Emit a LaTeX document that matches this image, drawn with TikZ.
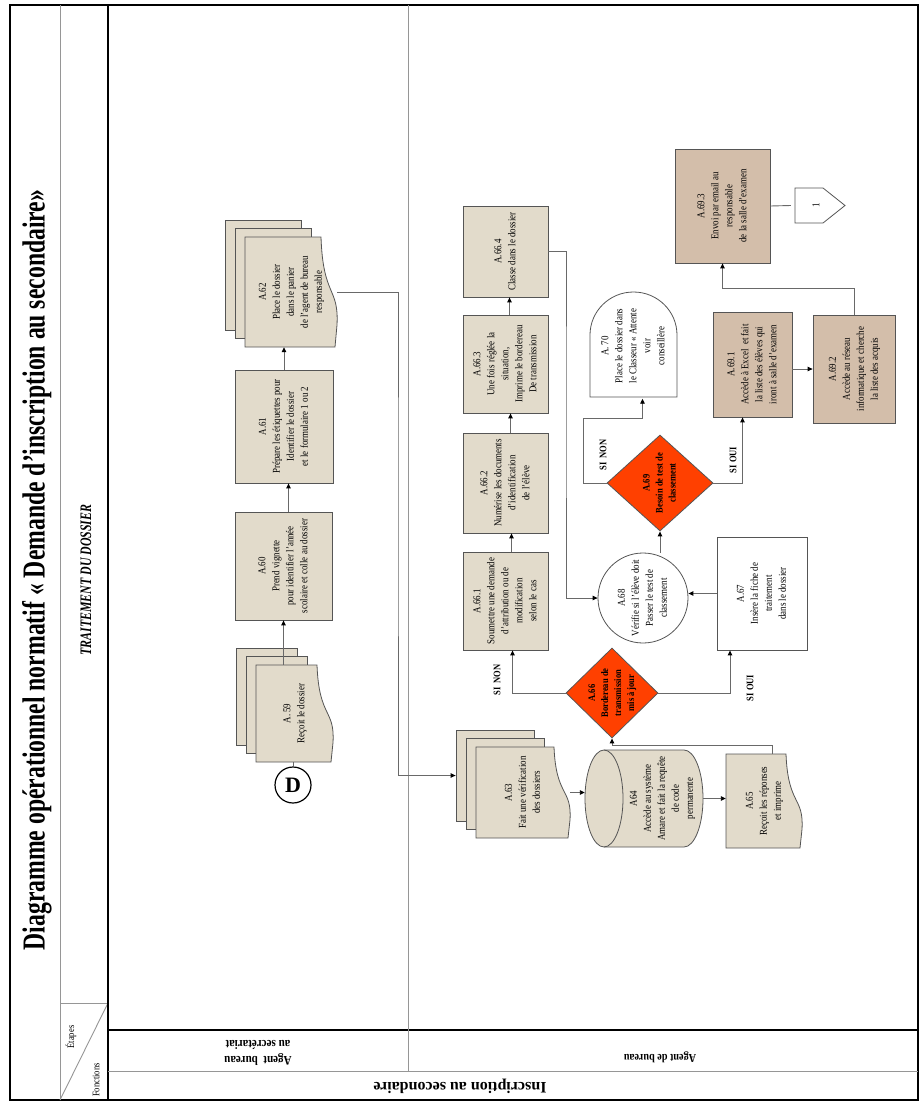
\documentclass[tikz,border=0pt]{standalone}
\usepackage{fontspec}
\setmainfont{Liberation Serif}
\newfontfamily\tfont{Liberation Serif}[FakeStretch=0.74]
\newfontfamily\nfont{Liberation Serif}[FakeStretch=0.85]
\usetikzlibrary{arrows.meta,shapes.geometric}
\definecolor{beige}{RGB}{226,219,203}
\definecolor{tanb}{RGB}{211,190,170}
\definecolor{redd}{RGB}{255,64,0}
\definecolor{edgec}{RGB}{85,85,85}
\definecolor{wirec}{RGB}{105,105,105}
\definecolor{linec}{RGB}{150,150,150}
\newcommand\rt[1]{\rotatebox{90}{\begin{tabular}{@{}c@{}}#1\end{tabular}}}
\newcommand\rtb[1]{\rotatebox{180}{\begin{tabular}{@{}c@{}}#1\end{tabular}}}
\tikzset{
  sheet/.style={draw=edgec, fill=beige, line width=0.8pt},
  nodefont/.style={font=\nfont\fontsize{10.5}{14}\selectfont},
  boxn/.style={sheet, rectangle, inner sep=0pt, nodefont},
  tanbox/.style={boxn, fill=tanb},
  whitebox/.style={boxn, fill=white},
  sheetn/.style={sheet, rectangle, inner sep=0pt},
  txt/.style={inner sep=0pt, nodefont},
  btxt/.style={inner sep=0pt, font=\nfont\bfseries\fontsize{10}{13}\selectfont},
  dia/.style={diamond, draw=edgec, fill=redd, line width=0.8pt, inner sep=0pt},
  wire/.style={draw=wirec, line width=0.9pt},
  arr/.style={wire, -{Triangle[length=5pt,width=4.5pt,color=black]}},
  gridl/.style={draw=linec, line width=0.9pt},
  heavy/.style={draw=black, line width=1.6pt},
}
% front document sheet with wavy right edge: x0 y0 x1 y1
\newcommand\docfront[4]{%
  \filldraw[sheet] (#1,#2) -- ({#3-16},#2)
    .. controls ({#3-14},{#2+0.55*(#4-#2)}) and ({#3+2},{#2+0.45*(#4-#2)}) .. ({#3},{#2+0.8*(#4-#2)})
    .. controls ({#3-0.5},{#2+0.9*(#4-#2)}) .. ({#3-2},#4) -- (#1,#4) -- cycle;}
% stack of three sheets: name x0 y0 x1 y1 (front sheet)
\newcommand\docstack[5]{%
  \node[sheetn, minimum width={(#4-#2-16)*1pt}, minimum height={(#5-#3)*1pt}] (#1b2) at ({(#2+#4-16)/2-20},{(#3+#5)/2-17}) {};
  \node[sheetn, minimum width={(#4-#2-16)*1pt}, minimum height={(#5-#3)*1pt}] (#1b1) at ({(#2+#4-16)/2-10},{(#3+#5)/2-8.5}) {};
  \docfront{#2}{#3}{#4}{#5}}
\begin{document}
\begin{tikzpicture}[x=1pt,y=-1pt]
\useasboundingbox (0,0) rectangle (923,1108);
\fill[white] (0,0) rectangle (923,1108);
% ---------- frame ----------
\draw[black, line width=1.4pt] (10,5) rectangle (918,1100);
\draw[gridl] (60,5) -- (60,1100);
\draw[gridl] (60,1003) -- (108,1003);
\draw[gridl] (60,1100) -- (108,1003);
\draw[heavy] (108,5) -- (108,1100);
\draw[heavy] (108,1030) -- (918,1030);
\draw[gridl] (108,1071) -- (918,1071);
\draw[gridl] (408,5) -- (408,1071);
% ---------- headers ----------
\node[font=\tfont\bfseries\fontsize{32}{36}\selectfont, rotate=90, inner sep=0pt] (title) at (37,570) {Diagramme opérationnel normatif «~Demande d’inscription au secondaire»};
\node[font=\tfont\bfseries\itshape\fontsize{16}{18}\selectfont, rotate=90, inner sep=0pt] (phase) at (86,580) {TRAITEMENT DU DOSSIER};
\node[font=\nfont\fontsize{10}{10}\selectfont, rotate=90, inner sep=0pt] (etapes) at (71,1037) {Étapes};
\node[font=\nfont\fontsize{10}{10}\selectfont, rotate=90, inner sep=0pt] (fonctions) at (96,1080) {Fonctions};
\node[font=\nfont\bfseries\fontsize{13}{16}\selectfont, inner sep=0pt] (lane1) at (258,1052) {\rtb{Agent~~bureau\\au secrétariat}};
\node[font=\nfont\bfseries\fontsize{12}{15}\selectfont, rotate=180, inner sep=0pt] (lane2) at (660,1057) {Agent de bureau};
\node[font=\bfseries\fontsize{16}{18}\selectfont, rotate=180, inner sep=0pt] (process) at (460,1086) {Inscription au secondaire};
% ---------- lane 1 ----------
\node[circle, draw=black, line width=1.2pt, minimum size=36pt, inner sep=0pt, font=\bfseries\fontsize{22}{22}\selectfont] (D) at (293,785) {D};
\docstack{A59}{256}{665}{333}{762}
\node[txt, minimum width=77pt, minimum height=97pt] (A59) at (294.5,713.5) {\rt{A. 59\\Reçoit le dossier}};
\node[boxn, minimum width=97pt, minimum height=108pt] (A60) at (283.5,566) {\rt{A.60\\Prend vignette\\pour identifier l’année\\scolaire et colle au dossier}};
\node[boxn, minimum width=98pt, minimum height=113pt] (A61) at (284,426.5) {\rt{A.61\\Prépare les étiquettes pour\\Identifier le dossier\\et le formulaire 1 ou 2}};
\docstack{A62}{245}{237}{337}{347}
\node[txt, minimum width=92pt, minimum height=110pt] (A62) at (291,292) {\rt{A.62\\Place le dossier\\dans le panier\\de l’agent de bureau\\responsable}};
% ---------- lane 2 ----------
\docstack{A63}{476}{747}{570}{838}
\node[txt, minimum width=94pt, minimum height=91pt] (A63) at (523,792.5) {\rt{A.63\\Fait une vérification\\des dossiers}};
\filldraw[sheet] (604,750) -- (684,750) arc[start angle=-90, end angle=90, x radius=19, y radius=48.5] -- (604,847) arc[start angle=90, end angle=270, x radius=19, y radius=48.5] -- cycle;
\draw[sheet, fill=none] (604,750) arc[start angle=-90, end angle=90, x radius=19, y radius=48.5];
\node[inner sep=0pt, minimum width=118pt, minimum height=97pt] (A64) at (644,798.5) {};
\node[txt] (A64t) at (662,798.5) {\rt{A64\\Accède au système\\Amare et fait la requête\\de code\\permanente}};
\docfront{726}{754}{802}{848}
\node[txt, minimum width=76pt, minimum height=94pt] (A65) at (764,801) {\rt{A.65\\Reçoit les réponses\\et imprime}};
\node[dia, minimum width=92pt, minimum height=90pt] (A66) at (612,693) {};
\node[btxt] (A66t) at (612,693) {\rt{A.66\\Bordereau de\\transmission\\mis à jour}};
\node[boxn, minimum width=85pt, minimum height=98pt] (A661) at (505.5,601) {\rt{A.66.1\\Soumettre une demande\\d’attribution ou de\\modification\\selon le cas}};
\node[boxn, minimum width=85pt, minimum height=100pt] (A662) at (505.5,483) {\rt{A.66.2\\Numérise les documents\\d’identification\\de l’élève}};
\node[boxn, minimum width=85pt, minimum height=98pt] (A663) at (505.5,364) {\rt{A.66.3\\Une fois réglée la\\situation,\\Imprime le bordereau\\De transmission}};
\node[boxn, minimum width=85pt, minimum height=91pt] (A664) at (505.5,251.5) {\rt{A.66.4\\Classe dans le dossier}};
\node[whitebox, minimum width=90pt, minimum height=113pt] (A67) at (762,593.5) {\rt{A.67\\Insère la fiche de\\traitement\\dans le dossier}};
\node[circle, draw=edgec, fill=white, line width=0.8pt, minimum size=90pt, inner sep=0pt] (A68) at (643,598) {};
\node[txt] (A68t) at (643,598) {\rt{A.68\\Vérifie si l’élève doit\\Passer le test de\\classement}};
\node[dia, minimum width=106pt, minimum height=96pt] (A69) at (660,483) {};
\node[btxt] (A69t) at (660,483) {\rt{A.69\\Besoin de test de\\classement}};
\filldraw[sheet, fill=white] (590,397) -- (590,335) arc[start angle=180, end angle=360, x radius=43.5, y radius=43] -- (677,397) -- cycle;
\node[txt, minimum width=87pt, minimum height=105pt] (A70) at (633.5,346) {\rt{A. 70\\Place le dossier dans\\le Classeur «~Attente\\voir\\conseillère}};
\node[tanbox, minimum width=79pt, minimum height=105pt] (A691) at (752.5,364.5) {\rt{A.69.1\\Accède à Excel~ et fait\\la liste des élèves qui\\iront à salle d’examen}};
\node[tanbox, minimum width=82pt, minimum height=108pt] (A692) at (854,369) {\rt{A.69.2\\Accède au réseau\\informatique et cherche\\la liste des acquis}};
\node[tanbox, minimum width=95pt, minimum height=114pt] (A693) at (722.5,206) {\rt{A.69.3\\Envoi par email au\\responsable\\de la salle d’examen}};
\filldraw[sheet, fill=white] (795,188) -- (823,188) -- (845,205.5) -- (823,223) -- (795,223) -- cycle;
\node[txt, minimum width=50pt, minimum height=35pt] (C1) at (816,205.5) {\rotatebox{90}{1}};
% ---------- labels ----------
\node[btxt, rotate=90] (sinon1) at (497,680) {SI~~NON};
\node[btxt, rotate=90] (sioui1) at (750,688) {SI OUI};
\node[btxt, rotate=90] (sinon2) at (603,455) {SI~~NON};
\node[btxt, rotate=90] (sioui2) at (733,460) {SI OUI};
% ---------- connectors ----------
\draw[wire] (D) -- (D |- A59.south);
\draw[arr] (A59.north -| A60) -- (A60.south);
\draw[arr] ([xshift=5pt]A60.north) -- ([xshift=5pt]A60.north |- A61.south);
\draw[arr] (A61.north) -- (A61.north |- A62.south);
\coordinate (j1) at (398,500);
\draw[arr] (A62.east) -| (j1) |- (A63b2.west);
\draw[arr] (A63.east) -- (A63.east -| A64.west);
\draw[arr] (A64.east) -- (A64.east -| A65.west);
\draw[arr] ([xshift=8pt]A65.north) -- ++(0,-8) -| (A66.south);
\draw[arr] (A66.west) -| ([xshift=7pt]A661.south);
\draw[arr] (A66.east) -| ([xshift=-32pt]A67.south);
\draw[arr] ([xshift=6pt]A661.north) -- ([xshift=6pt]A661.north |- A662.south);
\draw[arr] ([xshift=5pt]A662.north) -- ([xshift=5pt]A662.north |- A663.south);
\draw[arr] ([xshift=4pt]A663.north) -- ([xshift=4pt]A663.north |- A664.south);
\coordinate (j2) at (566,400);
\draw[arr] (A664.east) -| (j2) |- (A68.west);
\draw[arr] (A67.west) -- (A67.west -| A68.east);
\draw[arr] (A69.south |- A68.north) -- (A69.south);
\coordinate (j3) at (583,418);
\draw[arr] (A69.west) -| (j3) -| ([xshift=9pt]A70.south);
\draw[arr] (A69.east) -| ([xshift=-10pt]A691.south);
\draw[arr] (A692.west -| A691.east) -- (A692.west);
\draw[arr] (A692.north) -- ++(0,-26) -| (A693.south);
\draw[wire] (A693.east) -- (C1.west);
\end{tikzpicture}
\end{document}
